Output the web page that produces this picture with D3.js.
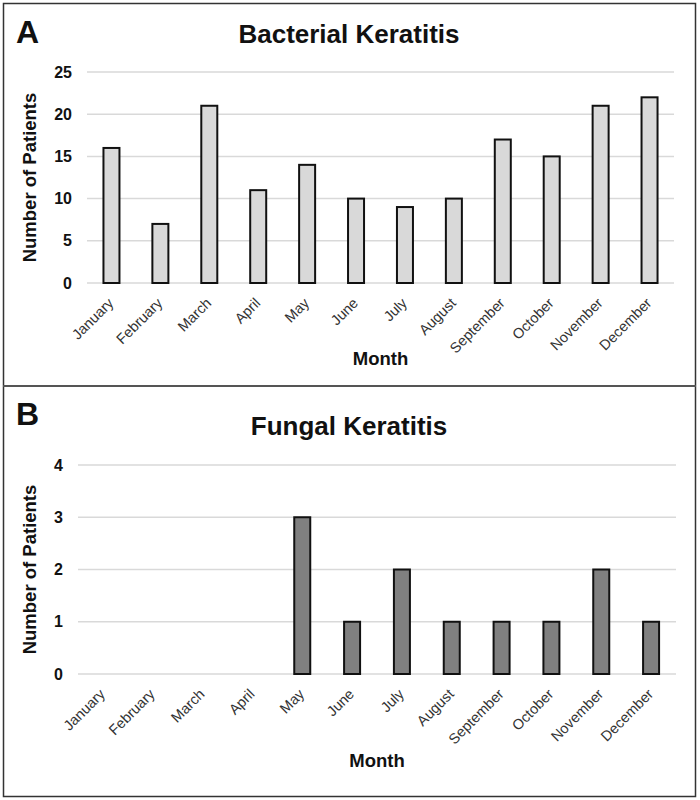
<!DOCTYPE html>
<html><head><meta charset="utf-8">
<script src="https://cdn.jsdelivr.net/npm/d3@7"></script>
<style>body{margin:0;background:#fff;} svg{display:block;font-family:Arial,"Liberation Sans",sans-serif;}</style>
</head><body>
<svg id="c" width="700" height="800"></svg>
<script>
const months = ["January","February","March","April","May","June","July","August","September","October","November","December"];
const bacterial = [16,7,21,11,14,10,9,10,17,15,21,22];
const fungal = [0,0,0,0,3,1,2,1,1,1,2,1];
const bacterialTicks = [0,5,10,15,20,25];
const fungalTicks = [0,1,2,3,4];

const FONT = "Arial,'Liberation Sans',sans-serif";
const svg = d3.select("#c");
svg.append("rect").attr("x",3.5).attr("y",3.5).attr("width",692).attr("height",793)
  .attr("fill","none").attr("stroke","#333").attr("stroke-width",1.5);
svg.append("line").attr("x1",3).attr("x2",696).attr("y1",386).attr("y2",386)
  .attr("stroke","#555").attr("stroke-width",2);

function panel(cfg){
  const g = svg.append("g");
  const x = d3.scaleBand().domain(months).range([cfg.x0,cfg.x1]);
  const y = d3.scaleLinear().domain([0,cfg.max]).range([cfg.yb,cfg.yt]);
  g.append("text").attr("x",cfg.letterX).attr("y",cfg.letterY).text(cfg.letter)
    .attr("font-size",32).attr("font-weight","bold").attr("fill","#111");
  g.append("text").attr("x",349).attr("y",cfg.titleY).text(cfg.title)
    .attr("text-anchor","middle").attr("font-size",26).attr("font-weight","bold").attr("fill","#111");
  // gridlines
  g.selectAll("line.grid").data(cfg.ticks).join("line")
    .attr("x1",cfg.x0).attr("x2",cfg.x1).attr("y1",d=>y(d)).attr("y2",d=>y(d))
    .attr("stroke","#d9d9d9").attr("stroke-width",1.5);
  // y axis labels
  const ya = g.append("g").attr("transform",`translate(${cfg.x0},0)`)
    .call(d3.axisLeft(y).tickValues(cfg.ticks).tickFormat(d3.format("d")).tickSize(0).tickPadding(15));
  ya.select(".domain").remove();
  ya.selectAll("text").attr("font-size",16).attr("font-weight","bold").attr("fill","#111")
    .attr("font-family",FONT);
  // bars
  const bw = 16;
  g.selectAll("rect.bar").data(cfg.values.map((v,i)=>({m:months[i],v}))).join("rect")
    .filter(d=>d.v>0)
    .attr("x",d=>x(d.m)+x.bandwidth()/2-bw/2).attr("width",bw)
    .attr("y",d=>y(d.v)).attr("height",d=>y(0)-y(d.v))
    .attr("fill",cfg.fill).attr("stroke","#111").attr("stroke-width",2);
  // x labels
  g.selectAll("text.xl").data(months).join("text")
    .attr("transform",d=>`translate(${x(d)+x.bandwidth()/2+3},${cfg.yb+21}) rotate(-45)`)
    .attr("text-anchor","end").attr("font-size",14.5).attr("fill","#333").attr("font-family",FONT)
    .text(d=>d);
  g.append("text").attr("x",(cfg.x0+cfg.x1)/2).attr("y",cfg.monthY).text("Month")
    .attr("text-anchor","middle").attr("font-size",18.5).attr("font-weight","bold").attr("fill","#111");
  g.append("text").attr("transform",`translate(${cfg.ylabX},${(cfg.yt+cfg.yb)/2}) rotate(-90)`)
    .text("Number of Patients").attr("text-anchor","middle")
    .attr("font-size",18.5).attr("font-weight","bold").attr("fill","#111");
}

panel({letter:"A",letterX:16,letterY:43,title:"Bacterial Keratitis",titleY:43,
  x0:87,x1:674,yb:283,yt:72,max:25,ticks:bacterialTicks,values:bacterial,fill:"#d9d9d9",
  monthY:365,ylabX:36});
panel({letter:"B",letterX:16,letterY:425,title:"Fungal Keratitis",titleY:435,
  x0:78,x1:676,yb:674,yt:465,max:4,ticks:fungalTicks,values:fungal,fill:"#808080",
  monthY:767,ylabX:36});
</script>
</body></html>
